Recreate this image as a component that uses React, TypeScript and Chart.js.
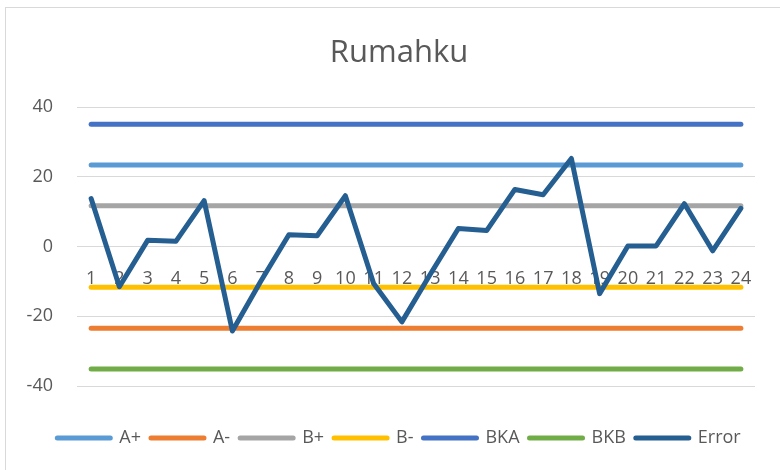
import React, { useEffect, useRef } from "react";
import { Chart, registerables } from "chart.js";

Chart.register(...registerables);

const categories = ["1","2","3","4","5","6","7","8","9","10","11","12","13","14","15","16","17","18","19","20","21","22","23","24"];
const errorValues = [13.8, -11.5, 1.8, 1.5, 13.2, -24.2, -10, 3.4, 3.1, 14.6, -10.6, -21.6, -8, 5.2, 4.6, 16.4, 14.9, 25.3, -13.5, 0.2, 0.2, 12.3, -1.2, 11];
const aPlus = 23.4;
const aMinus = -23.4;
const bPlus = 11.7;
const bMinus = -11.7;
const bka = 35.1;
const bkb = -35.1;
const yTicks = [-40, -20, 0, 20, 40];

const TEXT = "#595959";
const FONT = "'Open Sans', 'DejaVu Sans', sans-serif";

function constLine(v: number) {
  return categories.map(() => v);
}

export default function App() {
  const ref = useRef<HTMLCanvasElement | null>(null);
  useEffect(() => {
    if (!ref.current) return;
    const mk = (label: string, data: number[], color: string, order: number) => ({
      label,
      data,
      borderColor: color,
      backgroundColor: color,
      borderWidth: 5,
      borderCapStyle: "round" as const,
      borderJoinStyle: "round" as const,
      pointRadius: 0,
      pointHoverRadius: 0,
      tension: 0,
      fill: false,
      order,
      yAxisID: "y",
    });
    const chart = new Chart(ref.current, {
      type: "line",
      data: {
        labels: categories,
        datasets: [
          mk("A+", constLine(aPlus), "#5B9BD5", 1),
          mk("A-", constLine(aMinus), "#ED7D31", 1),
          mk("B+", constLine(bPlus), "#A5A5A5", 1),
          mk("B-", constLine(bMinus), "#FFC000", 1),
          mk("BKA", constLine(bka), "#4472C4", 1),
          mk("BKB", constLine(bkb), "#70AD47", 1),
          mk("Error", errorValues, "#255E91", 0),
        ],
      },
      options: {
        responsive: false,
        animation: false,
        devicePixelRatio: 1,
        layout: { padding: { left: 18, right: 0, top: 0, bottom: 13 } },
        plugins: {
          tooltip: { enabled: false },
          title: {
            display: true,
            text: "Rumahku",
            color: TEXT,
            font: { family: FONT, size: 31, weight: "normal" },
            padding: { top: 35, bottom: 35 },
          },
          legend: {
            display: true,
            position: "bottom",
            title: { display: true, text: " ", font: { size: 10 }, padding: { top: 0, bottom: 21 } },
            labels: {
              color: TEXT,
              font: { family: FONT, size: 18 },
              usePointStyle: true,
              pointStyle: "line",
              pointStyleWidth: 53,
              boxHeight: 18,
              padding: 10,
              generateLabels: (c: any) =>
                c.data.datasets.map((ds: any, i: number) => ({
                  text: ds.label,
                  fillStyle: ds.borderColor,
                  strokeStyle: ds.borderColor,
                  lineWidth: 5,
                  lineCap: "round",
                  pointStyle: "line",
                  hidden: false,
                  datasetIndex: i,
                  fontColor: TEXT,
                })),
            },
          },
        },
        scales: {
          x: {
            type: "category",
            offset: true,
            position: { y: 0 } as any,
            grid: { display: false, drawTicks: false },
            border: { display: false },
            ticks: {
              color: TEXT,
              font: { family: FONT, size: 18 },
              padding: 21,
              maxRotation: 0,
              autoSkip: false,
            },
          },
          y: {
            min: -40,
            max: 40,
            afterBuildTicks: (scale: any) => {
              scale.ticks = yTicks.map((v) => ({ value: v }));
            },
            afterFit: (scale: any) => {
              scale.width = 59;
            },
            grid: { color: "#D9D9D9", lineWidth: 1, drawTicks: false },
            border: { display: false },
            ticks: {
              color: TEXT,
              font: { family: FONT, size: 18 },
              padding: 24,
            },
          },
          yRight: {
            position: "right",
            min: -40,
            max: 40,
            grid: { display: false, drawTicks: false },
            border: { display: false },
            ticks: { display: false },
            afterFit: (scale: any) => {
              scale.width = 25;
            },
          },
        },
      } as any,
    });
    return () => chart.destroy();
  }, []);

  return (
    <div style={{ position: "fixed", left: 0, top: 0, width: 780, height: 470, overflow: "hidden", background: "#fff" }}>
      <div style={{ position: "absolute", left: 5, top: 7, width: 800, height: 500, border: "1px solid #D9D9D9" }} />
      <canvas ref={ref} width={780} height={470} style={{ position: "absolute", left: 0, top: 0, width: 780, height: 470 }} />
    </div>
  );
}
